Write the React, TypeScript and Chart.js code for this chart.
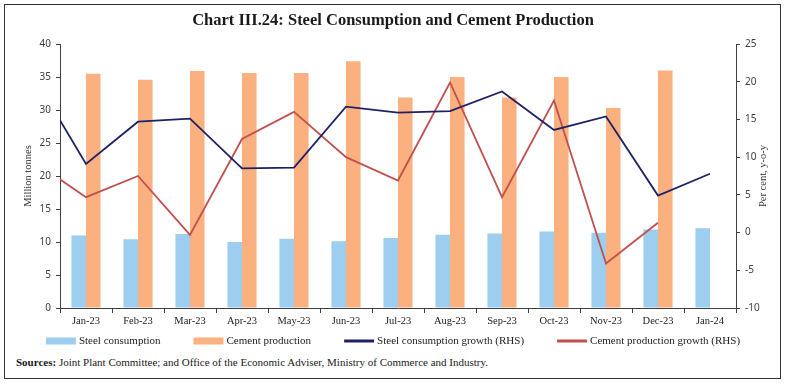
import React, { useEffect, useRef } from 'react';
import { Chart, registerables } from 'chart.js';

Chart.register(...registerables);

// Month categories shown on the x-axis
const categories = [
  'Jan-23', 'Feb-23', 'Mar-23', 'Apr-23', 'May-23', 'Jun-23', 'Jul-23',
  'Aug-23', 'Sep-23', 'Oct-23', 'Nov-23', 'Dec-23', 'Jan-24',
];

// The growth lines start one month earlier (Dec-22); that month lies outside the
// visible axis range, so its segment is clipped at the left edge of the plot.
const leadMonth = 'Dec-22';

// Million tonnes (LHS), Jan-23 .. Jan-24
const steelConsumption = [11.0, 10.4, 11.2, 10.0, 10.5, 10.1, 10.6, 11.1, 11.3, 11.6, 11.4, 11.9, 12.1];
const cementProduction = [35.5, 34.6, 35.9, 35.6, 35.6, 37.4, 31.9, 35.0, 31.9, 35.0, 30.3, 36.0, null];

// Per cent, y-o-y (RHS), Dec-22 .. Jan-24
const steelGrowth = [20.7, 9.1, 14.7, 15.1, 8.5, 8.6, 16.7, 15.9, 16.1, 18.7, 13.6, 15.4, 4.9, 7.8];
const cementGrowth = [9.4, 4.7, 7.5, -0.3, 12.4, 16.0, 10.0, 6.9, 19.9, 4.7, 17.5, -4.1, 1.3, null];

const leftAxis = { min: 0, max: 40, step: 5 };
const rightAxis = { min: -10, max: 25, step: 5 };

const TITLE = 'Chart III.24: Steel Consumption and Cement Production';
const LEFT_TITLE = 'Million tonnes';
const RIGHT_TITLE = 'Per cent, y-o-y';

const COLORS = {
  steel: '#9dcdef',
  cement: '#fbb17f',
  steelGrowth: '#1f2167',
  cementGrowth: '#c0504d',
  axis: '#404040',
  text: '#222222',
};

const SERIF = '"Liberation Serif", "Times New Roman", serif';

export default function App() {
  const ref = useRef<HTMLCanvasElement>(null);

  useEffect(() => {
    if (!ref.current) return;

    const allLabels = [leadMonth, ...categories];

    const legendPlugin = {
      id: 'customLegend',
      afterDraw(chart: any) {
        const ctx = chart.ctx as CanvasRenderingContext2D;
        ctx.save();
        ctx.font = `11px ${SERIF}`;
        ctx.textBaseline = 'middle';
        ctx.textAlign = 'left';
        const items = chart.data.datasets.map((ds: any) => ({
          text: ds.label as string,
          isLine: ds.type === 'line',
          color: ds.type === 'line' ? ds.borderColor : ds.backgroundColor,
        }));
        const boxW = 30;
        const textGap = 3;
        const gap = 33;
        const widths = items.map((it: any) => boxW + textGap + ctx.measureText(it.text).width);
        const total = widths.reduce((a: number, b: number) => a + b, 0) + gap * (items.length - 1);
        let x = (chart.width - total) / 2;
        const y = 341;
        items.forEach((it: any, i: number) => {
          ctx.fillStyle = it.color;
          if (it.isLine) ctx.fillRect(x, y - 1.5, boxW, 3);
          else ctx.fillRect(x, y - 3.5, boxW, 7);
          ctx.fillStyle = COLORS.text;
          ctx.fillText(it.text, x + boxW + textGap, y + 0.5);
          x += widths[i] + gap;
        });
        ctx.restore();
      },
    };

    const gridOpts = {
      drawOnChartArea: false,
      drawTicks: true,
      tickLength: 4,
      color: COLORS.axis,
    };
    const tickFont = { family: '"Noto Sans", sans-serif', size: 10 };

    const chart = new Chart(ref.current, {
      type: 'bar',
      data: {
        labels: allLabels,
        datasets: [
          {
            type: 'bar',
            label: 'Steel consumption',
            data: [null, ...steelConsumption],
            backgroundColor: COLORS.steel,
            yAxisID: 'y',
            order: 1,
            categoryPercentage: 0.56,
            barPercentage: 1.0,
          },
          {
            type: 'bar',
            label: 'Cement production',
            data: [null, ...cementProduction],
            backgroundColor: COLORS.cement,
            yAxisID: 'y',
            order: 1,
            categoryPercentage: 0.56,
            barPercentage: 1.0,
          },
          {
            type: 'line',
            label: 'Steel consumption growth (RHS)',
            data: steelGrowth,
            borderColor: COLORS.steelGrowth,
            backgroundColor: COLORS.steelGrowth,
            borderWidth: 1.8,
            pointRadius: 0,
            tension: 0,
            yAxisID: 'y1',
            order: 0,
          },
          {
            type: 'line',
            label: 'Cement production growth (RHS)',
            data: cementGrowth,
            borderColor: COLORS.cementGrowth,
            backgroundColor: COLORS.cementGrowth,
            borderWidth: 1.8,
            pointRadius: 0,
            tension: 0,
            yAxisID: 'y1',
            order: 0,
          },
        ] as any,
      },
      options: {
        animation: false,
        responsive: false,
        maintainAspectRatio: false,
        layout: { padding: { top: 44, bottom: 20, left: 0, right: 0 } },
        plugins: {
          legend: { display: false },
          tooltip: { enabled: false },
          title: { display: false },
        },
        scales: {
          x: {
            type: 'category',
            min: categories[0],
            max: categories[categories.length - 1],
            offset: true,
            grid: { offset: true, drawOnChartArea: false, drawTicks: true, tickLength: 5, color: COLORS.axis },
            border: { color: COLORS.axis, width: 1 },
            ticks: {
              color: COLORS.text,
              font: { family: SERIF, size: 10.5 },
              padding: 2,
              maxRotation: 0,
              autoSkip: false,
            },
            afterFit(scale: any) {
              scale.height = 24;
            },
          },
          y: {
            position: 'left',
            min: leftAxis.min,
            max: leftAxis.max,
            ticks: { stepSize: leftAxis.step, color: COLORS.axis, font: tickFont, padding: 5 },
            grid: gridOpts,
            border: { color: COLORS.axis, width: 1 },
            afterFit(scale: any) {
              scale.width = 60;
            },
          },
          y1: {
            position: 'right',
            min: rightAxis.min,
            max: rightAxis.max,
            ticks: { stepSize: rightAxis.step, color: COLORS.axis, font: tickFont, padding: 5 },
            grid: gridOpts,
            border: { color: COLORS.axis, width: 1 },
            afterFit(scale: any) {
              scale.width = 50;
            },
          },
        } as any,
      },
      plugins: [legendPlugin],
    });

    return () => chart.destroy();
  }, []);

  return (
    <div
      style={{
        position: 'absolute',
        left: 0,
        top: 0,
        width: 786,
        height: 386,
        background: '#ffffff',
        overflow: 'hidden',
        fontFamily: SERIF,
      }}
    >
      <canvas
        ref={ref}
        width={786}
        height={352}
        style={{ position: 'absolute', left: 0, top: 0, width: 786, height: 352 }}
      />
      <div
        style={{
          position: 'absolute',
          left: 0,
          top: 10,
          width: 786,
          textAlign: 'center',
          fontWeight: 'bold',
          fontSize: 16.5,
          lineHeight: '20px',
          color: '#1a1a1a',
        }}
      >
        {TITLE}
      </div>
      <div
        style={{
          position: 'absolute',
          left: 28 - 60,
          top: 176 - 7,
          width: 120,
          height: 14,
          lineHeight: '14px',
          textAlign: 'center',
          fontSize: 10.5,
          color: '#333',
          transform: 'rotate(-90deg)',
          transformOrigin: '60px 7px',
        }}
      >
        {LEFT_TITLE}
      </div>
      <div
        style={{
          position: 'absolute',
          left: 763 - 60,
          top: 176 - 7,
          width: 120,
          height: 14,
          lineHeight: '14px',
          textAlign: 'center',
          fontSize: 10.5,
          color: '#333',
          transform: 'rotate(-90deg)',
          transformOrigin: '60px 7px',
        }}
      >
        {RIGHT_TITLE}
      </div>
      <div
        style={{
          position: 'absolute',
          left: 16,
          top: 355,
          fontSize: 11,
          lineHeight: '14px',
          color: '#1a1a1a',
          whiteSpace: 'nowrap',
        }}
      >
        <b>Sources:</b> Joint Plant Committee; and Office of the Economic Adviser, Ministry of Commerce and Industry.
      </div>
      <div
        style={{
          position: 'absolute',
          left: 4,
          top: 4,
          width: 775,
          height: 373,
          border: '1px solid #333',
          pointerEvents: 'none',
        }}
      />
    </div>
  );
}
